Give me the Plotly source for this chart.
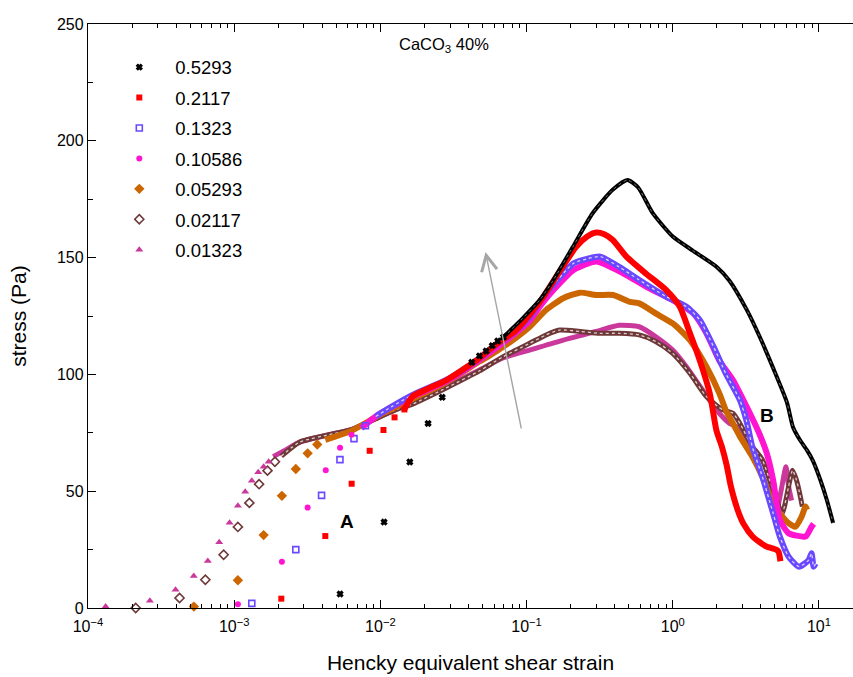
import plotly.graph_objects as go
import math

# ---------------- data ----------------
rates = ["0.5293", "0.2117", "0.1323", "0.10586", "0.05293", "0.02117", "0.01323"]
colors = ["#000000", "#ff0000", "#6a48ff", "#ff14d2", "#cc6600", "#6e3838", "#c9389a"]
symbols = ["x", "square", "square-open", "circle", "diamond", "diamond-open", "triangle-up"]

# 0.5293
blk_sx = [0.0053, 0.0106, 0.0159, 0.0212, 0.0265, 0.0422, 0.0476, 0.0529, 0.0582, 0.0635, 0.0695]
blk_sy = [6.0, 36.8, 62.5, 79.0, 90.2, 105.2, 107.9, 110.0, 112.3, 114.3, 116.0]
blk_dx = [0.0695, 0.094, 0.123, 0.151, 0.207, 0.283, 0.388, 0.49, 0.58, 0.73, 1.0, 1.37, 2.0, 2.45,
          3.21, 3.94, 4.84, 6.04, 6.64, 7.4, 8.28, 9.1, 10.2, 11.35, 12.5]
blk_dy = [116.0, 124.0, 131.8, 140.0, 154.5, 169.0, 179.0, 183.2, 180.0, 169.0, 159.0, 153.0, 146.0, 140.0,
          127.6, 116.0, 103.0, 88.0, 77.5, 72.0, 67.6, 63.0, 55.0, 46.0, 36.4]

# 0.2117
red_sx = [0.0021, 0.0042, 0.00636, 0.00845, 0.0105, 0.0125, 0.0146]
red_sy = [4.0, 30.8, 53.2, 67.3, 76.2, 81.6, 85.0]
red_dx = [0.0146, 0.0166, 0.0282, 0.0476, 0.0617, 0.085, 0.123, 0.168, 0.219, 0.26, 0.30, 0.34, 0.389,
          0.482, 0.66, 0.906, 1.117, 1.31, 1.53, 1.79, 1.99, 2.17, 2.34, 2.5, 2.78, 3.05, 3.53, 4.32,
          5.1, 5.3, 5.45]
red_dy = [85.0, 90.5, 97.5, 107.0, 112.8, 119.0, 131.0, 144.0, 154.7, 159.0, 160.7, 160.0, 157.5,
          150.4, 143.0, 136.0, 129.0, 117.7, 106.0, 92.0, 76.0, 69.0, 61.0, 52.0, 42.0, 36.0, 30.5, 26.5,
          25.0, 24.0, 20.0]

# 0.1323
blu_sx = [0.00132, 0.00264, 0.00396, 0.00529, 0.0066, 0.0079]
blu_sy = [2.0, 25.0, 48.2, 63.5, 72.5, 78.0]
blu_dx = [0.0093, 0.0118, 0.0166, 0.0282, 0.0366, 0.0476, 0.0617, 0.0806, 0.105, 0.136, 0.21, 0.26,
          0.32, 0.43, 0.59, 0.9, 1.24, 1.53, 1.9, 2.3, 2.88, 3.2, 3.5, 4.1, 4.86, 5.4, 6.2, 7.3, 8.5,
          8.9, 9.2, 9.5]
blu_dy = [82.0, 86.0, 91.2, 97.6, 101.9, 106.9, 112.6, 117.6, 124.7, 134.7, 147.6, 149.5,
          150.4, 146.0, 140.4, 133.3, 129.0, 123.3, 111.9, 100.5, 89.0, 80.0, 69.0, 56.2, 40.5, 30.6,
          22.0, 17.7, 20.5, 23.4, 17.7, 19.0]

# 0.10586
mag_sx = [0.00106, 0.00212, 0.00318, 0.00423, 0.0053, 0.00635]
mag_sy = [1.6, 19.8, 43.0, 59.0, 68.6, 74.2]
mag_dx = [0.0074, 0.0098, 0.0166, 0.0282, 0.0476, 0.0806, 0.105, 0.123, 0.16, 0.21, 0.30, 0.457,
          0.66, 1.0, 1.39, 1.7, 2.08, 2.58, 3.2, 3.9, 4.4, 4.86, 5.4, 6.2, 7.0, 8.1, 8.9, 9.2]
mag_dy = [77.0, 83.0, 90.5, 97.0, 106.2, 116.8, 123.0, 129.0, 137.5, 144.7, 148.3, 143.3,
          137.5, 131.8, 126.0, 117.6, 106.0, 97.6, 86.2, 74.8, 66.2, 54.8, 37.7, 32.0, 31.0, 30.6,
          34.8, 36.0]

# 0.05293
org_sx = [0.00053, 0.00106, 0.00159, 0.00212, 0.00264, 0.00318, 0.0037]
org_sy = [0.6, 11.9, 31.2, 48.0, 59.5, 66.2, 70.0]
org_dx = [0.0042, 0.0064, 0.0098, 0.0166, 0.0282, 0.0476, 0.0557, 0.0806, 0.105, 0.136, 0.178,
          0.232, 0.30, 0.39, 0.51, 0.59, 0.77, 1.0, 1.31, 1.7, 2.08, 2.33, 2.58, 2.88, 3.5, 4.1,
          4.86, 5.4, 6.2, 6.9, 7.6, 8.1, 8.3]
org_dy = [72.0, 76.0, 82.5, 89.5, 96.5, 105.5, 108.0, 114.7, 120.4, 127.6, 132.6,
          135.0, 134.0, 134.0, 131.0, 130.4, 126.0, 121.8, 114.7, 103.3, 92.0, 84.0, 79.0, 73.4, 64.8, 56.2,
          44.8, 40.5, 36.3, 34.8, 39.0, 43.4, 42.0]

# 0.02117
brn_sx = [0.000212, 0.000423, 0.000635, 0.000847, 0.00106, 0.00127, 0.00148, 0.00169, 0.0019]
brn_sy = [0.0, 4.3, 12.1, 22.8, 34.7, 45.0, 53.0, 58.8, 62.6]
brn_dx = [0.0021, 0.0028, 0.0047, 0.0064, 0.0089, 0.0135, 0.0166, 0.0282, 0.0476, 0.0688, 0.105,
          0.136, 0.168, 0.232, 0.316, 0.43, 0.59, 0.77, 1.0, 1.31, 1.7, 2.2, 2.58, 2.88, 3.5, 4.1,
          4.6, 4.86, 5.6, 6.2, 6.6, 7.0, 7.3, 7.7]
brn_dy = [65.0, 71.0, 74.5, 76.5, 80.5, 85.5, 87.3, 94.2, 101.5, 107.5, 113.3,
          116.9, 119.0, 118.4, 117.6, 117.6, 116.9, 114.0, 109.0, 100.5, 90.5, 84.8, 83.4, 79.0, 69.0, 63.4,
          54.8, 50.5, 40.5, 52.0, 59.0, 55.0, 50.5, 43.4]

# 0.01323
pnk_sx = [0.000132, 0.000265, 0.000397, 0.000529, 0.00066, 0.00079, 0.00093, 0.00106, 0.00119,
          0.00132, 0.00146, 0.00159, 0.00172]
pnk_sy = [0.6, 3.1, 7.8, 13.7, 20.1, 28.1, 36.5, 43.8, 49.8, 54.5, 58.1, 60.5, 62.6]
pnk_dx = [0.00185, 0.0023, 0.0028, 0.0047, 0.0064, 0.0089, 0.0135, 0.0166, 0.0282, 0.0476, 0.0688,
          0.105, 0.178, 0.30, 0.43, 0.59, 0.77, 1.0, 1.24, 1.6, 1.99, 2.45, 2.88, 3.5, 4.1, 4.6,
          4.86, 5.1, 5.5, 5.95, 6.2, 6.5]
pnk_dy = [64.8, 68.0, 71.0, 74.5, 76.5, 80.5, 85.5, 87.6, 94.7, 101.9, 107.0,
          110.4, 114.7, 118.4, 121.0, 120.4, 116.0, 110.4, 103.3, 93.3, 84.8, 79.0, 77.0, 69.0, 63.4, 54.8,
          47.7, 40.5, 50.0, 60.5, 52.0, 46.0]

sparse = [(blk_sx, blk_sy), (red_sx, red_sy), (blu_sx, blu_sy), (mag_sx, mag_sy),
          (org_sx, org_sy), (brn_sx, brn_sy), (pnk_sx, pnk_sy)]
dense = [(blk_dx, blk_dy), (red_dx, red_dy), (blu_dx, blu_dy), (mag_dx, mag_dy),
         (org_dx, org_dy), (brn_dx, brn_dy), (pnk_dx, pnk_dy)]
msizes = [5, 6, 6, 6, 8, 7, 7]
bandw = [4, 6, 6, 6, 6, 5, 5]

# axis ticks
x_ticks = [1e-4, 1e-3, 1e-2, 1e-1, 1, 10]
x_ticklabels = ["10<sup>\u22124</sup>", "10<sup>\u22123</sup>", "10<sup>\u22122</sup>",
                "10<sup>\u22121</sup>", "10<sup>0</sup>", "10<sup>1</sup>"]
x_minor = [m * d for d in [1e-4, 1e-3, 1e-2, 1e-1, 1, 10] for m in range(2, 10)]
y_ticks = [0, 50, 100, 150, 200, 250]
y_ticklabels = ["0", "50", "100", "150", "200", "250"]
y_minor = [25, 75, 125, 175, 225]

# annotation positions (data units)
arrow_tail = (0.0925, 76.2)
arrow_head = (0.0524, 152.4)
label_A = (0.00594, 37.2)
label_B = (4.4, 82.6)
label_title = (0.0274, 241.0)

FONT = "Liberation Sans, Arial, Helvetica, sans-serif"

fig = go.Figure()

# dense bands first (drawn under)
order = [6, 5, 4, 3, 2, 1, 0]
for i in order:
    dx, dy = dense[i]
    fig.add_trace(go.Scatter(x=dx, y=dy, mode="lines", showlegend=False, hoverinfo="skip",
                             line=dict(color=colors[i], width=bandw[i], shape="spline", smoothing=0.6)))
    if symbols[i].endswith("open"):
        fig.add_trace(go.Scatter(x=dx, y=dy, mode="lines", showlegend=False, hoverinfo="skip",
                                 line=dict(color="rgba(255,255,255,0.75)", width=1.3, dash="dot",
                                           shape="spline", smoothing=0.6)))
    if symbols[i] == "x":
        fig.add_trace(go.Scatter(x=dx, y=dy, mode="lines", showlegend=False, hoverinfo="skip",
                                 line=dict(color="rgba(255,255,255,0.45)", width=1.0, dash="dot",
                                           shape="spline", smoothing=0.6)))

for i in range(7):
    sx, sy = sparse[i]
    open_ = symbols[i].endswith("open")
    fig.add_trace(go.Scatter(
        x=sx, y=sy, mode="markers", name=rates[i], legendgroup=rates[i], cliponaxis=False,
        marker=dict(symbol=symbols[i], size=msizes[i], color=colors[i],
                    line=dict(color=colors[i], width=1.6 if open_ else (1.2 if symbols[i] == "x" else 0)))
    ))

fig.add_annotation(x=math.log10(arrow_head[0]), y=arrow_head[1],
                   ax=math.log10(arrow_tail[0]), ay=arrow_tail[1], axref="x", ayref="y",
                   xref="x", yref="y", showarrow=True, arrowhead=5, arrowsize=2.2, arrowwidth=1.4,
                   arrowcolor="#a6a6a6", text="")
fig.add_annotation(x=math.log10(label_A[0]), y=label_A[1], text="<b>A</b>", showarrow=False,
                   font=dict(size=19, color="black", family=FONT))
fig.add_annotation(x=math.log10(label_B[0]), y=label_B[1], text="<b>B</b>", showarrow=False,
                   font=dict(size=19, color="black", family=FONT))
fig.add_annotation(x=math.log10(label_title[0]), y=label_title[1], text="CaCO<sub>3</sub> 40%",
                   showarrow=False, font=dict(size=16.5, color="black", family=FONT))

fig.update_xaxes(type="log", range=[-4, 1.233], tickmode="array", tickvals=x_ticks, ticktext=x_ticklabels,
                 showgrid=False, zeroline=False, showline=True, linecolor="black", linewidth=1.3,
                 mirror="ticks", ticks="inside", ticklen=8, tickwidth=1, tickcolor="black",
                 ticklabelstandoff=4,
                 minor=dict(tickmode="array", tickvals=x_minor, ticks="inside", ticklen=4, tickwidth=1,
                            tickcolor="black", showgrid=False),
                 tickfont=dict(size=16, family=FONT, color="black"),
                 title=dict(text="Hencky equivalent shear strain", font=dict(size=21, family=FONT, color="black"),
                            standoff=20))
fig.update_yaxes(range=[0, 250], tickmode="array", tickvals=y_ticks, ticktext=y_ticklabels,
                 showgrid=False, zeroline=False,
                 showline=True, linecolor="black", linewidth=1.3, mirror=False,
                 ticks="inside", ticklen=8, tickwidth=1, tickcolor="black",
                 minor=dict(tickmode="array", tickvals=y_minor, ticks="inside", ticklen=5, tickwidth=1,
                            tickcolor="black", showgrid=False),
                 tickfont=dict(size=16, family=FONT, color="black"),
                 title=dict(text="stress (Pa)", font=dict(size=21, family=FONT, color="black"), standoff=24))

fig.update_layout(
    width=853, height=677, autosize=False,
    margin=dict(l=88, r=0, t=24, b=69),
    paper_bgcolor="white", plot_bgcolor="white",
    font=dict(family=FONT, color="black"),
    showlegend=True,
    legend=dict(x=0.020, y=0.958, xanchor="left", yanchor="top", bgcolor="rgba(0,0,0,0)",
                font=dict(size=18.5, family=FONT, color="black"), tracegroupgap=3.4,
                itemsizing="trace", itemwidth=62),
)

fig.write_html("out.html")
